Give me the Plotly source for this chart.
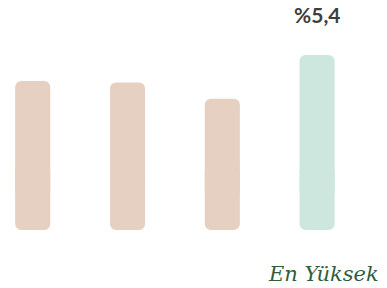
import plotly.graph_objects as go

categories = ["A", "B", "C", "D"]
values = [4.6, 4.55, 4.05, 5.4]
bar_colors = ["#e5d0c1", "#e5d0c1", "#e5d0c1", "#cde7df"]
peak_label = "%5,4"
footer_label = "En Yüksek"

Y0, Y1 = -1.79, 7.099
split_lo, split_hi = 1.0, 2.0  # upper piece starts at split_lo, lower piece ends at split_hi

fig = go.Figure()
# upper piece: rounded top
fig.add_trace(go.Bar(x=categories, y=[v - split_lo for v in values], base=[split_lo] * 4,
                     marker=dict(color=bar_colors, cornerradius=6, line=dict(width=0)),
                     width=0.37, hoverinfo="skip", yaxis="y"))
# lower piece on mirrored axis: rounded bottom
fig.add_trace(go.Bar(x=categories, y=[split_hi] * 4, base=[0] * 4,
                     marker=dict(color=bar_colors, cornerradius=6, line=dict(width=0)),
                     width=0.37, hoverinfo="skip", yaxis="y2"))

fig.add_annotation(x=categories[3], y=values[3], text=f"<b>{peak_label}</b>",
                   showarrow=False, yanchor="bottom", yshift=26,
                   font=dict(family="Lato", size=21, color="#3d3d3d"))
fig.add_annotation(x=0.985, y=0.0, xref="paper", yref="paper",
                   text=f"<i>{footer_label}</i>", showarrow=False,
                   xanchor="right", yanchor="bottom",
                   font=dict(family="DejaVu Serif", size=21, color="#2f5d3c"))

fig.update_layout(
    width=387, height=288, margin=dict(l=0, r=0, t=0, b=0),
    paper_bgcolor="white", plot_bgcolor="white",
    barmode="overlay", showlegend=False,
    xaxis=dict(range=[-0.345, 3.737], visible=False, type="category"),
    yaxis=dict(range=[Y0, Y1], visible=False),
    yaxis2=dict(range=[split_hi - Y0, split_hi - Y1], visible=False, overlaying="y"),
)
fig.write_html("out.html", config={"displayModeBar": False})
with open("out.html", encoding="utf-8") as f:
    html = f.read()
html = html.replace("<body>", '<body style="margin:0;padding:0">', 1)
with open("out.html", "w", encoding="utf-8") as f:
    f.write(html)
